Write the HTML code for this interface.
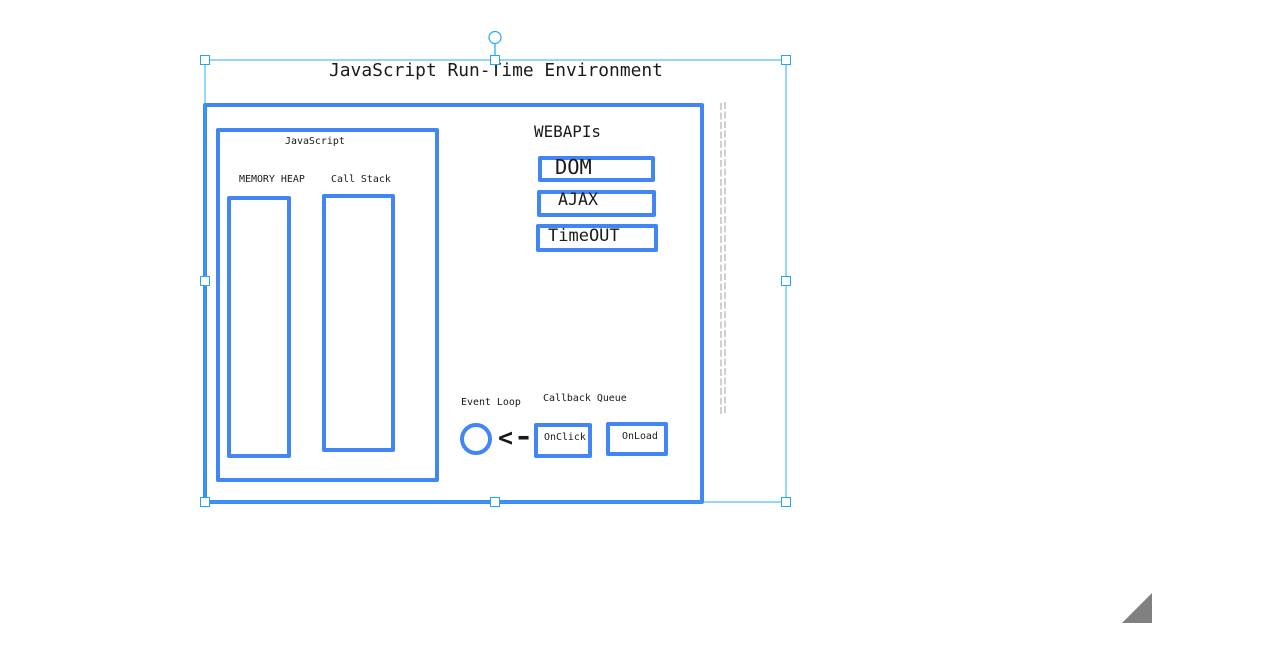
<!DOCTYPE html>
<html>
<head>
<meta charset="utf-8">
<style>
html,body{margin:0;padding:0;background:#fff;width:1280px;height:660px;overflow:hidden}
svg{display:block}
text{font-family:"DejaVu Sans Mono","Liberation Mono",monospace;fill:#1a1a1a}
</style>
</head>
<body>
<svg width="1280" height="660" viewBox="0 0 1280 660" xmlns="http://www.w3.org/2000/svg">
  <!-- dashed line pair -->
  <g stroke="#d0d0d0" stroke-width="2" fill="none" stroke-dasharray="7 2.5">
    <line x1="721" y1="103" x2="721" y2="414"/>
    <line x1="725" y1="102" x2="725" y2="414"/>
  </g>

  <!-- blue boxes -->
  <g fill="none" stroke="#4285f4" stroke-width="4" stroke-linejoin="round">
    <rect x="205" y="105" width="497" height="397"/>
    <rect x="218" y="130" width="219" height="350"/>
    <rect x="229" y="198" width="60" height="258"/>
    <rect x="324" y="196" width="69" height="254"/>
    <rect x="540" y="158" width="113" height="22"/>
    <rect x="539" y="192" width="115" height="23"/>
    <rect x="538" y="226" width="118" height="24"/>
    <rect x="536" y="425" width="54" height="31"/>
    <rect x="608" y="424" width="58" height="30"/>
    <circle cx="476" cy="439" r="14"/>
  </g>

  <!-- labels -->
  <text x="329" y="76" font-size="17.9">JavaScript Run-Time Environment</text>
  <text x="285" y="144" font-size="9.95">JavaScript</text>
  <text x="239" y="182" font-size="9.95">MEMORY HEAP</text>
  <text x="331" y="182" font-size="9.95">Call Stack</text>
  <text x="534" y="137" font-size="15.9">WEBAPIs</text>
  <text x="555" y="174" font-size="20.4">DOM</text>
  <text x="558" y="205" font-size="16.6">AJAX</text>
  <text x="548" y="241" font-size="17">TimeOUT</text>
  <text x="461" y="405" font-size="9.95">Event Loop</text>
  <text x="543" y="401" font-size="9.95">Callback Queue</text>
  <text x="544" y="440" font-size="9.95">OnClick</text>
  <text x="622" y="439" font-size="9.95">OnLoad</text>
  <text x="498" y="446" font-size="25" font-weight="bold">&lt;</text>
  <text transform="translate(513.75 444.75) scale(1.3 1)" font-size="25" font-weight="bold">-</text>

  <!-- selection frame -->
  <rect x="205" y="60" width="581" height="442" fill="none" stroke="#29aaf8" stroke-opacity="0.75" stroke-width="1.3"/>
  <line x1="495" y1="44" x2="495" y2="55" stroke="#1ea7fd" stroke-width="1.2"/>
  <circle cx="495" cy="37.5" r="6" fill="#fff" stroke="#1ea7fd" stroke-width="1.2"/>
  <g fill="#fff" stroke="#1ea7fd" stroke-width="1">
    <rect x="200.5" y="55.5" width="9" height="9"/>
    <rect x="490.5" y="55.5" width="9" height="9"/>
    <rect x="781.5" y="55.5" width="9" height="9"/>
    <rect x="200.5" y="276.5" width="9" height="9"/>
    <rect x="781.5" y="276.5" width="9" height="9"/>
    <rect x="200.5" y="497.5" width="9" height="9"/>
    <rect x="490.5" y="497.5" width="9" height="9"/>
    <rect x="781.5" y="497.5" width="9" height="9"/>
  </g>

  <!-- corner triangle -->
  <polygon points="1122,623 1152,593 1152,623" fill="#808080"/>
</svg>
</body>
</html>
